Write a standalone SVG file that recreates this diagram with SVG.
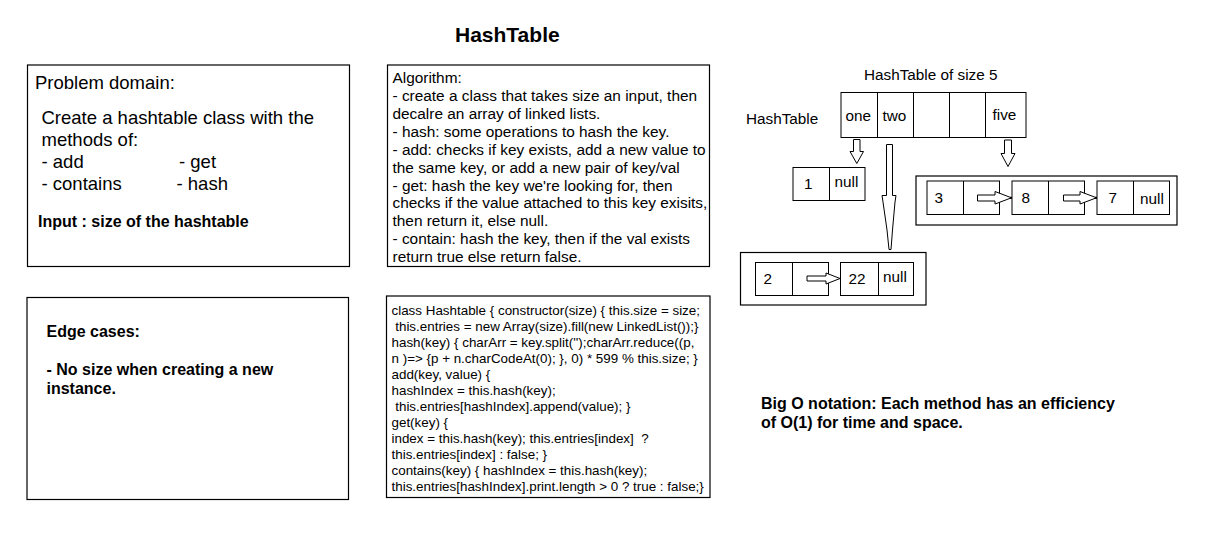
<svg xmlns="http://www.w3.org/2000/svg" width="1229" height="550" viewBox="0 0 1229 550">
<style>
text{font-family:"Liberation Sans",Arial,sans-serif;fill:#000}
.box{fill:#fff;stroke:#000;stroke-width:1.2}
.cell{fill:none;stroke:#000;stroke-width:1}
.arr{fill:#fff;stroke:#000;stroke-width:1;stroke-linejoin:miter}
.pd{font-size:18.5px}
.b16{font-size:16px;font-weight:bold}
.alg{font-size:15.4px}
.code{font-size:13.4px;white-space:pre}
.lbl{font-size:15.3px}
</style>
<rect width="1229" height="550" fill="#fff"/>
<text id="title" x="455" y="42" style="font-size:21px;font-weight:bold">HashTable</text>

<g id="problem-domain">
<rect class="box" x="27.5" y="65" width="322" height="201.5"/>
<text class="pd" x="35" y="89">Problem domain:</text>
<text class="pd" x="41.5" y="124">Create a hashtable class with the</text>
<text class="pd" x="41.5" y="146">methods of:</text>
<text class="pd" x="41.5" y="168">- add</text>
<text class="pd" x="179" y="168">- get</text>
<text class="pd" x="41.5" y="190">- contains</text>
<text class="pd" x="176.5" y="190">- hash</text>
<text class="b16" x="38" y="227">Input : size of the hashtable</text>
</g>

<g id="edge-cases">
<rect class="box" x="27" y="297.5" width="321.5" height="202"/>
<text class="b16" x="46.5" y="337">Edge cases:</text>
<text class="b16" x="46.5" y="375">- No size when creating a new</text>
<text class="b16" x="46.5" y="394">instance.</text>
</g>

<g id="algorithm">
<rect class="box" x="387.5" y="65" width="322" height="201.5"/>
<text class="alg" x="392.5" y="82.5">Algorithm:</text>
<text class="alg" x="392.5" y="101">- create a class that takes size an input, then</text>
<text class="alg" x="392.5" y="118.9">decalre an array of linked lists.</text>
<text class="alg" x="392.5" y="136.8">- hash: some operations to hash the key.</text>
<text class="alg" x="392.5" y="154.7">- add: checks if key exists, add a new value to</text>
<text class="alg" x="392.5" y="172.6">the same key, or add a new pair of key/val</text>
<text class="alg" x="392.5" y="190.5">- get: hash the key we're looking for, then</text>
<text class="alg" x="392.5" y="208.4">checks if the value attached to this key exisits,</text>
<text class="alg" x="392.5" y="226.3">then return it, else null.</text>
<text class="alg" x="392.5" y="244.2">- contain: hash the key, then if the val exists</text>
<text class="alg" x="392.5" y="262.1">return true else return false.</text>
</g>

<g id="code">
<rect class="box" x="386.5" y="296" width="323.5" height="201.5"/>
<text class="code" x="391.5" y="314.5">class Hashtable { constructor(size) { this.size = size;</text>
<text class="code" x="391.5" y="330.5"> this.entries = new Array(size).fill(new LinkedList());}</text>
<text class="code" x="391.5" y="346.5">hash(key) { charArr = key.split('');charArr.reduce((p,</text>
<text class="code" x="391.5" y="362.5">n )=&gt; {p + n.charCodeAt(0); }, 0) * 599 % this.size; }</text>
<text class="code" x="391.5" y="378.5">add(key, value) {</text>
<text class="code" x="391.5" y="394.5">hashIndex = this.hash(key);</text>
<text class="code" x="391.5" y="410.5"> this.entries[hashIndex].append(value); }</text>
<text class="code" x="391.5" y="426.5">get(key) {</text>
<text class="code" x="391.5" y="442.5">index = this.hash(key); this.entries[index]  ?</text>
<text class="code" x="391.5" y="458.5">this.entries[index] : false; }</text>
<text class="code" x="391.5" y="474.5">contains(key) { hashIndex = this.hash(key);</text>
<text class="code" x="391.5" y="490.5">this.entries[hashIndex].print.length &gt; 0 ? true : false;}</text>
</g>

<g id="hashtable-array">
<text class="lbl" x="864" y="80">HashTable of size 5</text>
<text class="lbl" x="746" y="123.5">HashTable</text>
<rect class="cell" x="841" y="92.5" width="185" height="45"/>
<line class="cell" x1="877.5" y1="92.5" x2="877.5" y2="137.5"/>
<line class="cell" x1="913.5" y1="92.5" x2="913.5" y2="137.5"/>
<line class="cell" x1="949.5" y1="92.5" x2="949.5" y2="137.5"/>
<line class="cell" x1="985.5" y1="92.5" x2="985.5" y2="137.5"/>
<text class="lbl" x="845.5" y="121">one</text>
<text class="lbl" x="882.5" y="121">two</text>
<text class="lbl" x="992.5" y="120">five</text>
</g>

<g id="list-one">
<rect class="cell" x="793" y="167.5" width="72" height="33"/>
<line class="cell" x1="829.5" y1="167.5" x2="829.5" y2="200.5"/>
<text class="lbl" x="804" y="189">1</text>
<text class="lbl" x="834.5" y="187">null</text>
</g>

<g id="list-two">
<rect class="box" x="740.5" y="252.5" width="185.5" height="52.5"/>
<rect class="cell" x="755.5" y="262.5" width="73" height="33"/>
<line class="cell" x1="792.5" y1="262.5" x2="792.5" y2="295.5"/>
<rect class="cell" x="840.5" y="262.5" width="73" height="33"/>
<line class="cell" x1="878.5" y1="262.5" x2="878.5" y2="295.5"/>
<text class="lbl" x="763.5" y="284">2</text>
<text class="lbl" x="848.5" y="284">22</text>
<text class="lbl" x="883" y="282">null</text>
</g>

<g id="list-five">
<rect class="box" x="916" y="176" width="261" height="49"/>
<rect class="cell" x="927" y="181" width="72.5" height="33.5"/>
<line class="cell" x1="963.5" y1="181" x2="963.5" y2="214.5"/>
<rect class="cell" x="1012" y="181" width="72.5" height="33.5"/>
<line class="cell" x1="1048.5" y1="181" x2="1048.5" y2="214.5"/>
<rect class="cell" x="1097" y="181" width="72.5" height="33.5"/>
<line class="cell" x1="1133.5" y1="181" x2="1133.5" y2="214.5"/>
<text class="lbl" x="934.5" y="203">3</text>
<text class="lbl" x="1021.5" y="203">8</text>
<text class="lbl" x="1108.5" y="203">7</text>
<text class="lbl" x="1140" y="204">null</text>
</g>

<g id="connectors">
<polygon class="arr" points="853.5,139.5 860,139.5 860,151.5 863.5,151.5 856.8,163.5 850,151.5 853.5,151.5"/>
<polygon class="arr" points="886.5,144.5 892.5,144.5 892.5,195.5 896,195.5 895,202 892.5,230 891,249.5 889,249.5 887,230 883,202 882,195.5 886.5,195.5"/>
<polygon class="arr" points="1004.5,140 1011.5,140 1011.5,153.5 1015,153.5 1008,166.5 1001,153.5 1004.5,153.5"/>
<polygon class="arr" points="977.5,195 995,195 995,191.5 1011.5,197.8 995,204 995,201 977.5,201"/>
<rect x="1010" y="196.8" width="2" height="2" fill="#000"/>
<polygon class="arr" points="1063.5,195 1080,195 1080,191.5 1096.5,197.8 1080,204 1080,201 1063.5,201"/>
<rect x="1095" y="196.8" width="2" height="2" fill="#000"/>
<polygon class="arr" points="807,276 826,276 826,273 840,278.5 826,284 826,281 807,281"/>
</g>

<g id="big-o">
<text class="b16" x="761" y="409">Big O notation: Each method has an efficiency</text>
<text class="b16" x="761" y="428">of O(1) for time and space.</text>
</g>
</svg>
